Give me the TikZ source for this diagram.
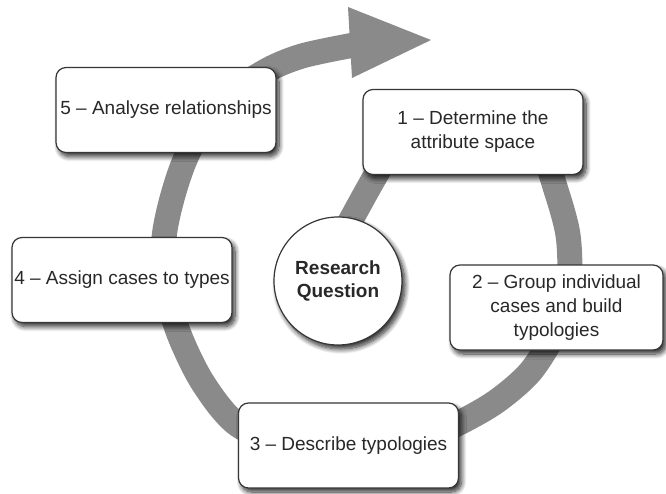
\documentclass[tikz,border=0pt]{standalone}
\usepackage{fontspec}
\setmainfont{Liberation Sans}
\usetikzlibrary{shadows.blur}

\definecolor{bandgray}{RGB}{138,138,138}
\definecolor{edge}{RGB}{55,55,55}
\definecolor{ink}{RGB}{40,40,40}

\begin{document}
\begin{tikzpicture}[x=1pt, y=-1pt,
  softshadow/.style={blur shadow={shadow xshift=3pt, shadow yshift=-4pt,
      shadow blur radius=5pt, shadow blur steps=10, shadow opacity=85}},
  stage/.style={draw=edge, line width=1.2pt, fill=white, rounded corners=10pt,
      minimum width=220pt, minimum height=85pt, inner sep=0pt, outer sep=0pt,
      align=center, text=ink, font=\fontsize{19}{24}\selectfont, softshadow},
  core/.style={circle, draw=edge, line width=1.2pt, fill=white,
      minimum size=128pt, inner sep=0pt, align=center, text=ink,
      font=\fontsize{19}{23.5}\selectfont\bfseries, softshadow},
  band/.style={draw=bandgray, line width=25pt},
]
\useasboundingbox (0,0) rectangle (666,494);

% waypoints of the spiral band, from the centre outwards
\coordinate (w0)  at (315,286);
\coordinate (w1)  at (352,218);
\coordinate (w2)  at (377,173);
\coordinate (w3)  at (404,128);
\coordinate (w4)  at (455,108);
\coordinate (w5)  at (510,118);
\coordinate (w6)  at (541,150);
\coordinate (w7)  at (556,190);
\coordinate (w8)  at (568,235);
\coordinate (w9)  at (569,282);
\coordinate (w10) at (557,328);
\coordinate (w11) at (531,371);
\coordinate (w12) at (497,401);
\coordinate (w13) at (459,423);
\coordinate (w14) at (410,445);
\coordinate (w15) at (355,456);
\coordinate (w16) at (298,450);
\coordinate (w17) at (238,425);
\coordinate (w18) at (203,383);
\coordinate (w19) at (179,334);
\coordinate (w20) at (165,285);
\coordinate (w21) at (164,238);
\coordinate (w22) at (173,195);
\coordinate (w23) at (188,153);
\coordinate (w24) at (216,106);
\coordinate (w25) at (264,72);
\coordinate (w26) at (302,56);
\coordinate (headbase) at (354,45);
% arrowhead corners
\coordinate (htop) at (348,7);
\coordinate (hbot) at (352,78);
\coordinate (htip) at (431,40);

% spiral band and its arrowhead
\draw[band] plot[smooth, tension=0.5] coordinates
  {(w0) (w1) (w2) (w3) (w4) (w5) (w6) (w7) (w8) (w9) (w10) (w11) (w12)
   (w13) (w14) (w15) (w16) (w17) (w18) (w19) (w20) (w21) (w22) (w23)
   (w24) (w25) (w26) (headbase)};
\fill[bandgray] (htop) -- (htip) -- (hbot) -- cycle;

% stages
\node[stage] (s1) at (473,132)   {1 – Determine the\\attribute space};
\node[stage, minimum width=213pt] (s2) at (556.5,307.5)
  {2 – Group individual\\cases and build\\typologies};
\node[stage] (s3) at (348.5,445.5) {3 – Describe typologies};
\node[stage] (s4) at (122,280)   {4 – Assign cases to types};
\node[stage] (s5) at (166,110)   {5 – Analyse relationships};

% centre
\node[core] (rq) at (338,281) {Research\\Question};
\end{tikzpicture}
\end{document}
